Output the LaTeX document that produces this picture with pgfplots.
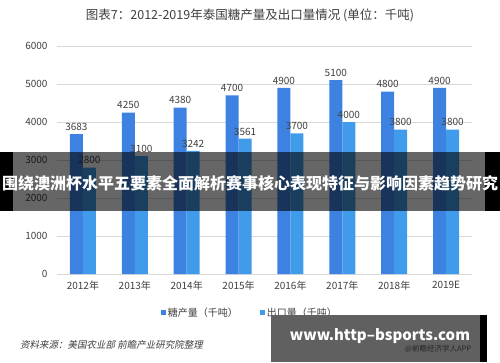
\documentclass[border=0pt]{standalone}
\usepackage{fontspec}
\setmainfont{Noto Sans CJK SC}
\newfontfamily\cjkit[FakeSlant=0.2]{Noto Sans CJK SC}
\usepackage{pgfplots}
\pgfplotsset{compat=1.18}
\pgfplotsset{/pgf/number format/1000 sep={},
  sqlegend/.style={legend image code/.code={\fill[##1] (0pt,-2.5pt) rectangle (5pt,2.5pt);}}}
\definecolor{darkb}{HTML}{3E82E1}
\definecolor{lightb}{HTML}{419BEB}
\definecolor{gridc}{HTML}{D9D9D9}
\definecolor{txt}{HTML}{404040}
\definecolor{boxg}{HTML}{606060}
\begin{document}
\begin{tikzpicture}[x=1pt,y=1pt]
\path[use as bounding box, fill=white] (0,0) rectangle (500,362);
\node[font=\fontsize{12.5}{14}\selectfont, text=txt] at (250,347) {图表7：2012-2019年泰国糖产量及出口量情况 (单位：千吨)};
\begin{axis}[at={(57pt,88pt)}, anchor=south west, scale only axis,
  width=415pt, height=228pt,
  ybar=0pt, bar width=13pt,
  xmin=-0.5, xmax=7.5, ymin=0, ymax=6000,
  xtick={0,...,7},
  xticklabels={2012年,2013年,2014年,2015年,2016年,2017年,2018年,2019E},
  ytick={0,1000,...,6000},
  ymajorgrids, grid style={gridc, line width=0.8pt},
  axis line style={draw=none}, major tick length=0pt,
  tick label style={font=\fontsize{10}{12}\selectfont, text=txt},
  xticklabel style={yshift=-4pt},
  yticklabel style={xshift=-6pt},
  /pgf/number format/assume math mode=true,
  nodes near coords,
  nodes near coords style={font=\fontsize{10}{12}\selectfont, text=txt, /pgf/number format/assume math mode=true},
  legend columns=2,
  legend style={at={(0.465,-0.171)}, anchor=center, draw=none, fill=none,
    font=\fontsize{10}{12}\selectfont, text=txt,
    /tikz/every even column/.append style={column sep=20pt}},
]
\addplot[fill=darkb, draw=none, sqlegend] coordinates {(0,3683) (1,4250) (2,4380) (3,4700) (4,4900) (5,5100) (6,4800) (7,4900)};
\addlegendentry{糖产量（千吨）}
\addplot[fill=lightb, draw=none, sqlegend] coordinates {(0,2800) (1,3100) (2,3242) (3,3561) (4,3700) (5,4000) (6,3800) (7,3800)};
\addlegendentry{出口量（千吨）}
\end{axis}
% banner overlay
\fill[black] (0,151) rectangle (13,210);
\fill[black] (485,151) rectangle (500,210);
\fill[black, opacity=0.6] (13,151) rectangle (485,210);
\node[text=white, font=\fontsize{16}{16}\selectfont\bfseries, inner sep=0] at (250,179) {围绕澳洲杯水平五要素全面解析赛事核心表现特征与影响因素趋势研究};
% source
\node[anchor=west, font=\cjkit\fontsize{9.5}{11}\selectfont, text=txt, inner sep=0] at (20,17) {资料来源：美国农业部 前瞻产业研究院整理};
% bottom watermark box
\fill[boxg] (271,0) rectangle (480,47);
\fill[black] (480,0) rectangle (487,47);
\node[font=\fontsize{7.5}{9}\selectfont, text=black!85, inner sep=0] at (438,13) {@前瞻经济学人APP};
\node[text=white, font=\fontsize{15}{15}\selectfont\bfseries, inner sep=0] at (380,26) {www.http--bsports.com};
\end{tikzpicture}
\end{document}
